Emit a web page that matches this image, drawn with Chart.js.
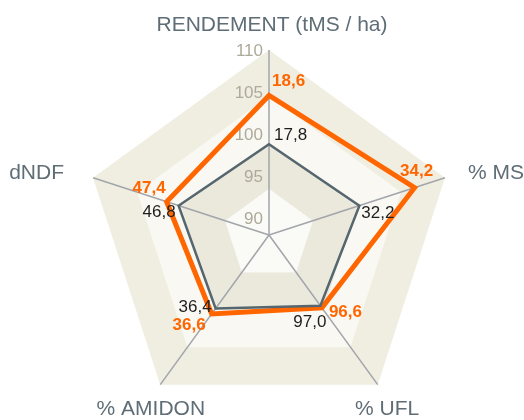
<!DOCTYPE html>
<html><head><meta charset="utf-8">
<script src="https://cdn.jsdelivr.net/npm/chart.js@4"></script>
<style>html,body{margin:0;padding:0;background:#fff}#wrap{width:524px;height:420px;position:relative}</style>
</head><body><div id="wrap"><canvas id="c" width="524" height="420"></canvas></div>
<script>
// ---- data ----
const categories = ['RENDEMENT (tMS / ha)', '% MS', '% UFL', '% AMIDON', 'dNDF'];
const greyIndex = [98.8, 99.3, 98.4, 98.8, 99.3];
const orangeIndex = [104.6, 106.2, 98.7, 99.6, 100.8];
const greyValues = [17.8, 32.2, 97.0, 36.4, 46.8];
const orangeValues = [18.6, 34.2, 96.6, 36.6, 47.4];
const tickValues = [90, 95, 100, 105, 110];
const scaleMin = 88, scaleMax = 110;
const bandEdges = [110, 104.5, 99, 93.5];

// ---- styles ----
const GREY = '#56666f', ORANGE = '#ff6600';
const bandColors = ['#f0eee1', '#f9f8f3', '#ebe9dc', '#fafaf6'];
const FONT = '"Liberation Sans", Arial, sans-serif';
const fmt = v => v.toFixed(1).replace('.', ',');

const pointLabelCfg = [
  {d: 207, align: 'center', base: 'alphabetic', dx: 3, dy: 0},
  {d: 208, align: 'left', base: 'middle', dx: 4, dy: 2},
  {d: 204, align: 'center', base: 'top', dx: 0, dy: 1},
  {d: 204, align: 'center', base: 'top', dx: 0, dy: 1},
  {d: 208, align: 'right', base: 'middle', dx: -10, dy: 2}
];
const greyLabelCfg = [
  {align: 'left', dx: 5, dy: -9},
  {align: 'left', dx: 2, dy: 8},
  {align: 'right', dx: 6, dy: 17},
  {align: 'right', dx: -4, dy: -1},
  {align: 'right', dx: -3, dy: 7}
];
const orangeLabelCfg = [
  {align: 'left', dx: 3, dy: -14},
  {align: 'center', dx: 2, dy: -16},
  {align: 'left', dx: 7, dy: 5},
  {align: 'right', dx: -6, dy: 11},
  {align: 'right', dx: -1, dy: -13}
];

const bandsPlugin = {
  id: 'bands',
  beforeDraw(chart) {
    const ctx = chart.ctx, s = chart.scales.r;
    ctx.save();
    ctx.fillStyle = '#fff';
    ctx.fillRect(0, 0, chart.width, chart.height);
    bandEdges.forEach((edge, k) => {
      ctx.beginPath();
      categories.forEach((c, i) => {
        const p = s.getPointPositionForValue(i, edge);
        if (i === 0) ctx.moveTo(p.x, p.y); else ctx.lineTo(p.x, p.y);
      });
      ctx.closePath();
      ctx.fillStyle = bandColors[k];
      ctx.fill();
    });
    ctx.restore();
  },
  beforeDatasetsDraw(chart) {
    const ctx = chart.ctx, s = chart.scales.r;
    ctx.save();
    ctx.font = '17px ' + FONT;
    ctx.fillStyle = '#adaa99';
    ctx.textAlign = 'right';
    ctx.textBaseline = 'middle';
    tickValues.forEach(v => {
      const p = s.getPointPositionForValue(0, v);
      ctx.fillText(String(v), p.x - 6, p.y + 1);
    });
    ctx.restore();
  },
  afterDatasetsDraw(chart) {
    const ctx = chart.ctx, s = chart.scales.r;
    ctx.save();
    // axis labels
    ctx.font = '21px ' + FONT;
    ctx.fillStyle = '#5f6d76';
    categories.forEach((c, i) => {
      const cfg = pointLabelCfg[i];
      const p = s.getPointPosition(i, s.drawingArea + (cfg.d - 188));
      ctx.textAlign = cfg.align;
      ctx.textBaseline = cfg.base;
      ctx.fillText(c, p.x + cfg.dx, p.y + cfg.dy);
    });
    // value labels
    const draw = (dsIndex, values, cfgs, color, weight) => {
      const meta = chart.getDatasetMeta(dsIndex);
      ctx.font = weight + ' 17px ' + FONT;
      ctx.fillStyle = color;
      ctx.textBaseline = 'middle';
      meta.data.forEach((el, i) => {
        const cfg = cfgs[i];
        ctx.textAlign = cfg.align;
        ctx.fillText(fmt(values[i]), el.x + cfg.dx, el.y + cfg.dy);
      });
    };
    draw(0, greyValues, greyLabelCfg, '#1e1e1e', 'normal');
    draw(1, orangeValues, orangeLabelCfg, ORANGE, 'bold');
    ctx.restore();
  }
};

new Chart(document.getElementById('c'), {
  type: 'radar',
  data: {
    labels: categories,
    datasets: [
      {label: 'grey', data: greyIndex, borderColor: GREY, borderWidth: 2.5, fill: false, pointRadius: 0, pointHoverRadius: 0, tension: 0},
      {label: 'orange', data: orangeIndex, borderColor: ORANGE, borderWidth: 5, fill: false, pointRadius: 0, pointHoverRadius: 0, tension: 0}
    ]
  },
  options: {
    responsive: false,
    animation: false,
    layout: {padding: {top: 50, bottom: -7, left: 81, right: 67}},
    plugins: {legend: {display: false}, tooltip: {enabled: false}, title: {display: false}},
    scales: {
      r: {
        min: scaleMin,
        max: scaleMax,
        ticks: {display: false, stepSize: 5},
        grid: {display: false},
        angleLines: {display: true, color: '#a2a5aa', lineWidth: 1.5},
        pointLabels: {display: false}
      }
    }
  },
  plugins: [bandsPlugin]
});
</script>
</body></html>
